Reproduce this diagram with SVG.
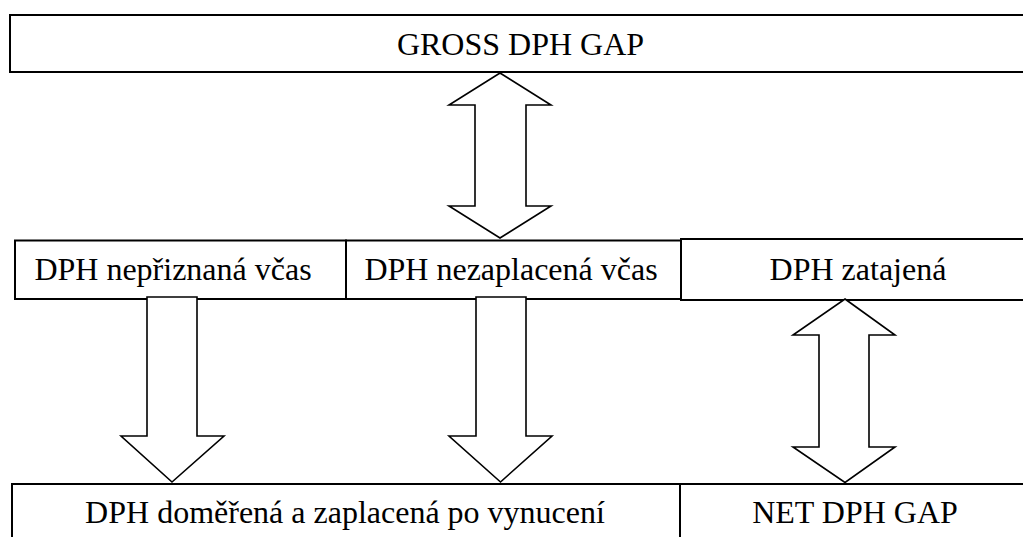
<svg xmlns="http://www.w3.org/2000/svg" width="1023" height="537" viewBox="0 0 1023 537">
  <style>
    .box { fill: #ffffff; stroke: #000000; stroke-width: 2; }
    .arrow { fill: #ffffff; stroke: #000000; stroke-width: 1.6; stroke-linejoin: miter; }
    text { font-family: "Liberation Serif", "Times New Roman", serif; font-size: 32px; fill: #000000; text-anchor: middle; }
  </style>
  <rect x="0" y="0" width="1023" height="537" fill="#ffffff"/>

  <!-- top row -->
  <g id="gross-gap">
    <rect class="box" x="10" y="15" width="1030" height="57"/>
    <text x="520.5" y="55">GROSS DPH GAP</text>
  </g>

  <!-- middle row -->
  <g id="nepriznana">
    <rect class="box" x="15" y="240.5" width="331" height="58.5"/>
    <text x="173" y="280">DPH nepřiznaná včas</text>
  </g>
  <g id="nezaplacena">
    <rect class="box" x="346" y="240.5" width="335" height="58.5"/>
    <text x="511" y="280">DPH nezaplacená včas</text>
  </g>
  <g id="zatajena">
    <rect class="box" x="681" y="239" width="360" height="61"/>
    <text x="858" y="280">DPH zatajená</text>
  </g>

  <!-- bottom row -->
  <g id="domerena">
    <rect class="box" x="12" y="484" width="668" height="70"/>
    <text x="345" y="523">DPH doměřená a zaplacená po vynucení</text>
  </g>
  <g id="net-gap">
    <rect class="box" x="680" y="484" width="360" height="70"/>
    <text x="855" y="523">NET DPH GAP</text>
  </g>

  <!-- block arrows -->
  <g id="connectors">
    <polygon class="arrow" points="500,73 551,105 526,105 526,206 551,206 500,238 449,206 475,206 475,105 449,105"/>
    <polygon class="arrow" points="147,297 197,297 197,436 224,436 172,482 121,436 147,436"/>
    <polygon class="arrow" points="476,297 526,297 526,436 552,436 500.5,482 449,436 476,436"/>
    <polygon class="arrow" points="845,299 895,335 869,335 869,447 895,447 845,482.5 793,447 819,447 819,335 793,335"/>
  </g>
</svg>
